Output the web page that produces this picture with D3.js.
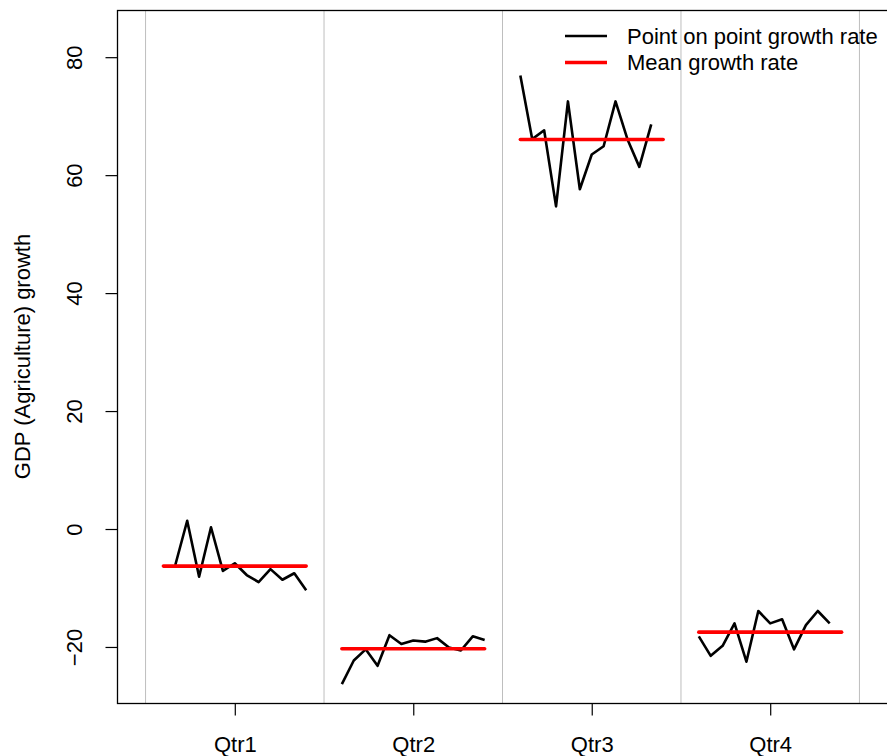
<!DOCTYPE html>
<html>
<head>
<meta charset="utf-8">
<script src="https://d3js.org/d3.v7.min.js"></script>
<style>
  body { margin: 0; padding: 0; background: #fff; }
  svg text { font-family: "Liberation Sans", Arial, sans-serif; fill: #000; }
</style>
</head>
<body>
<script>
// quarter names and the growth readings for each quarter, year by year
var quarters = ["Qtr1", "Qtr2", "Qtr3", "Qtr4"];
var firstYear = [2, 1, 1, 1];   // the series starts in Qtr2 of year 1
var qtr1 = [-6.1, 1.4, -8.1, 0.3, -7.1, -5.8, -7.8, -9.0, -6.8, -8.6, -7.5, -10.4];
var qtr2 = [-26.3, -22.3, -20.4, -23.2, -18.0, -19.5, -18.9, -19.1, -18.5, -20.1, -20.6, -18.2, -18.8];
var qtr3 = [76.9, 66.1, 67.6, 54.7, 72.5, 57.6, 63.5, 64.9, 72.5, 66.1, 61.4, 68.6];
var qtr4 = [-18.2, -21.5, -19.8, -16.0, -22.5, -13.9, -16.0, -15.3, -20.4, -16.3, -13.9, -16.0];
var yTicks = [-20, 0, 20, 40, 60, 80];
var series = [qtr1, qtr2, qtr3, qtr4];

var w = 887, h = 756;
var mL = 117, mR = 888, mT = 10, mB = 703;
var fs = 22;

var svg = d3.select("body").append("svg")
    .attr("width", w)
    .attr("height", h);

var x = d3.scaleLinear().domain([0.34, 4.66]).range([mL, mR]);
var y = d3.scaleLinear().domain([-29.5, 88]).range([mB, mT]);
// position of a year inside its quarter panel
var yearOff = d3.scaleLinear().domain([1, 13]).range([-0.4, 0.4]);

// grey separators between quarters
svg.selectAll(".sep")
    .data([0.5, 1.5, 2.5, 3.5, 4.5])
    .enter().append("line")
    .attr("x1", function(d) { return x(d); })
    .attr("x2", function(d) { return x(d); })
    .attr("y1", mT)
    .attr("y2", mB)
    .attr("stroke", "#bebebe")
    .attr("stroke-width", 1);

var line = d3.line()
    .x(function(d) { return x(d.q + yearOff(d.year)); })
    .y(function(d) { return y(d.v); });

series.forEach(function(vals, i) {
    var q = i + 1;
    var pts = vals.map(function(v, k) { return { q: q, year: firstYear[i] + k, v: v }; });
    svg.append("path")
        .datum(pts)
        .attr("d", line)
        .attr("fill", "none")
        .attr("stroke", "#000")
        .attr("stroke-width", 2.6)
        .attr("stroke-linejoin", "round");

    var m = d3.mean(vals);
    svg.append("line")
        .attr("x1", x(q + yearOff(1)))
        .attr("x2", x(q + yearOff(13)))
        .attr("y1", y(m))
        .attr("y2", y(m))
        .attr("stroke", "#ff0000")
        .attr("stroke-width", 3.6)
        .attr("stroke-linecap", "round");
});

// plot box
svg.append("rect")
    .attr("x", mL + 0.5)
    .attr("y", mT + 0.5)
    .attr("width", mR - mL)
    .attr("height", mB - mT)
    .attr("fill", "none")
    .attr("stroke", "#000")
    .attr("stroke-width", 1.3);

// y axis
var yAxis = svg.append("g")
    .attr("transform", "translate(" + (mL + 0.5) + ",0)")
    .call(d3.axisLeft(y).tickValues(yTicks).tickSize(12).tickSizeOuter(0)
        .tickFormat(function(d) { return d < 0 ? "\u2212" + (-d) : d; }));
yAxis.select(".domain").remove();
yAxis.selectAll("line").attr("stroke", "#000").attr("stroke-width", 1.2);
yAxis.selectAll(".tick text")
    .attr("x", 0).attr("y", 0).attr("dy", "0.35em")
    .attr("text-anchor", "middle")
    .attr("font-size", fs)
    .attr("fill", "#000")
    .attr("transform", "translate(-43,0) rotate(-90)");

// x axis
var xAxis = svg.append("g")
    .attr("transform", "translate(0," + (mB + 0.5) + ")")
    .call(d3.axisBottom(x).tickValues([1, 2, 3, 4]).tickSize(12).tickSizeOuter(0)
        .tickFormat(function(d) { return quarters[d - 1]; }));
xAxis.select(".domain").remove();
xAxis.selectAll("line").attr("stroke", "#000").attr("stroke-width", 1.2);
xAxis.selectAll("text")
    .attr("y", 41)
    .attr("dy", "0.35em")
    .attr("fill", "#000")
    .attr("font-size", fs);

// y label
svg.append("text")
    .attr("transform", "translate(22," + ((mT + mB) / 2) + ") rotate(-90)")
    .attr("text-anchor", "middle")
    .attr("dy", "0.35em")
    .attr("font-size", fs)
    .text("GDP (Agriculture) growth");

// legend
var legend = [
    { label: "Point on point growth rate", color: "#000", width: 2.6 },
    { label: "Mean growth rate", color: "#ff0000", width: 3.6 }
];
var lg = svg.append("g").attr("transform", "translate(565,36)");
legend.forEach(function(d, i) {
    lg.append("line")
        .attr("x1", 0).attr("x2", 42)
        .attr("y1", i * 26.5).attr("y2", i * 26.5)
        .attr("stroke", d.color)
        .attr("stroke-width", d.width);
    lg.append("text")
        .attr("x", 62)
        .attr("y", i * 26.5)
        .attr("dy", "0.35em")
        .attr("font-size", fs)
        .text(d.label);
});
</script>
</body>
</html>
